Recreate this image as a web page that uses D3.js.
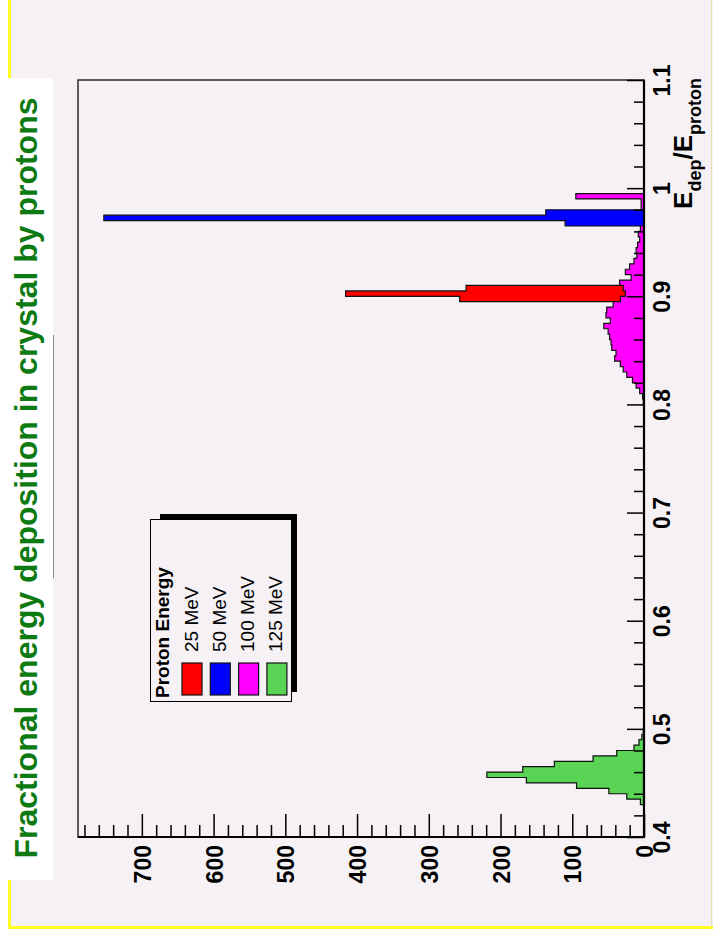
<!DOCTYPE html>
<html><head><meta charset="utf-8">
<script src="https://cdn.jsdelivr.net/npm/d3@7"></script>
<style>
body{margin:0;background:#ffffff;}
svg{display:block;}
text{font-family:"Liberation Sans",Arial,Helvetica,sans-serif;}
</style>
</head><body>
<svg id="c" width="713" height="943"></svg>
<script>
// ---------------- data ----------------
const titleText = "Fractional energy deposition in crystal by protons";
const legendHeader = "Proton Energy";
const seriesNames = ["25 MeV", "50 MeV", "100 MeV", "125 MeV"];
const seriesColors = ["#ff0000", "#0000ff", "#ff00ff", "#59d454"];
const binWidth = 0.005;
// counts per bin, bins start at the given lower edge
const start25 = 0.895;
const counts25 = [257, 416, 248];
const start50 = 0.965;
const counts50 = [110, 753, 137];
const start100 = 0.800;
const counts100 = [1, 2, 6, 11, 16, 24, 29, 33, 41, 39, 45, 46, 48, 50, 56, 47, 53, 52, 43, 33,
                   26, 29, 34, 18, 26, 20, 14, 10, 11, 9, 6, 8, 5, 5, 5, 5, 4, 4, 95];
const start125 = 0.430;
const counts125 = [5, 24, 49, 94, 164, 219, 169, 125, 71, 38, 14, 7, 3, 1];

const eTickValues = [0.4, 0.5, 0.6, 0.7, 0.8, 0.9, 1.0, 1.1];
const eTickLabels = ["0.4", "0.5", "0.6", "0.7", "0.8", "0.9", "1", "1.1"];
const countTickValues = [0, 100, 200, 300, 400, 500, 600, 700];
const countTickLabels = ["0", "100", "200", "300", "400", "500", "600", "700"];
const eDomain = [0.4, 1.1];
const countDomain = [0, 789];

// ---------------- layout ----------------
const BG = "#f5f1f5";
const frame = {left: 78, right: 644, top: 80, bottom: 837};
const svg = d3.select("#c");

// canvas background & border
svg.append("rect").attr("x", 9).attr("y", 0).attr("width", 704).attr("height", 928).attr("fill", BG);
svg.append("line").attr("x1", 9.5).attr("x2", 9.5).attr("y1", 0).attr("y2", 929)
  .attr("stroke", "#ffff22").attr("stroke-width", 3);
svg.append("line").attr("x1", 8).attr("x2", 713).attr("y1", 927.5).attr("y2", 927.5)
  .attr("stroke", "#ffff22").attr("stroke-width", 3);
svg.append("line").attr("x1", 711.5).attr("x2", 711.5).attr("y1", 0).attr("y2", 927)
  .attr("stroke", "#e6dfb0").attr("stroke-width", 1);

// title box
svg.append("rect").attr("x", 8).attr("y", 78).attr("width", 45).attr("height", 802).attr("fill", "#ffffff");
svg.append("line").attr("x1", 53.5).attr("x2", 53.5).attr("y1", 335).attr("y2", 578)
  .attr("stroke", "#8a8a8a").attr("stroke-width", 1);
svg.append("text").attr("transform", "translate(37,478) rotate(-90)")
  .attr("text-anchor", "middle").attr("font-size", 32).attr("font-weight", "bold")
  .attr("fill", "#0e7a12").text(titleText);

// scales (rotated chart: E along vertical, counts along horizontal)
const yE = d3.scaleLinear().domain(eDomain).range([frame.bottom, frame.top]);
const xC = d3.scaleLinear().domain(countDomain).range([frame.right, frame.left]);

// frame
svg.append("rect").attr("x", frame.left).attr("y", frame.top)
  .attr("width", frame.right - frame.left).attr("height", frame.bottom - frame.top)
  .attr("fill", BG).attr("stroke", "#2a2a2a").attr("stroke-width", 1.5);

// histograms
function histPath(start, counts) {
  const pts = [[0, start]];
  counts.forEach((c, i) => {
    const lo = start + i * binWidth, hi = lo + binWidth;
    pts.push([c, lo]); pts.push([c, hi]);
  });
  pts.push([0, start + counts.length * binWidth]);
  return d3.line().x(d => xC(d[0])).y(d => yE(d[1]))(pts) + "Z";
}
const drawOrder = [
  {start: start125, counts: counts125, color: seriesColors[3]},
  {start: start25, counts: counts25, color: seriesColors[0]},
  {start: start100, counts: counts100, color: seriesColors[2]},
  {start: start50, counts: counts50, color: seriesColors[1]}
];
svg.append("g").selectAll("path").data(drawOrder).join("path")
  .attr("d", d => histPath(d.start, d.counts))
  .attr("fill", d => d.color).attr("stroke", "#111").attr("stroke-width", 1.2)
  .attr("stroke-linejoin", "miter");

// E axis (right side, ticks pointing into the frame)
const minorE = d3.range(0, 36).map(i => +(0.4 + i * 0.02).toFixed(3))
  .filter(v => v <= 1.1 && Math.abs(v * 10 - Math.round(v * 10)) > 1e-6);
const gEminor = svg.append("g").attr("transform", `translate(${frame.right},0)`)
  .call(d3.axisLeft(yE).tickValues(minorE).tickSize(10).tickFormat(""));
const gE = svg.append("g").attr("transform", `translate(${frame.right},0)`)
  .call(d3.axisLeft(yE).tickValues(eTickValues).tickSize(17).tickFormat((d, i) => eTickLabels[i]));
[gEminor, gE].forEach(g => {
  g.select(".domain").remove();
  g.selectAll(".tick line").attr("stroke", "#000").attr("stroke-width", 1.5);
});
gE.attr("font-size", 23).attr("font-weight", "bold").attr("font-family", null);
gE.selectAll(".tick text").attr("x", null).attr("dy", null).attr("fill", "#000")
  .attr("text-anchor", "middle").attr("transform", "translate(26,0) rotate(-90)");

// count axis (bottom, ticks pointing up)
const minorC = d3.range(0, 790, 20).filter(v => v % 100 !== 0);
const gCminor = svg.append("g").attr("transform", `translate(0,${frame.bottom})`)
  .call(d3.axisTop(xC).tickValues(minorC).tickSize(12).tickFormat(""));
const gC = svg.append("g").attr("transform", `translate(0,${frame.bottom})`)
  .call(d3.axisTop(xC).tickValues(countTickValues).tickSize(23).tickFormat((d, i) => countTickLabels[i]));
[gCminor, gC].forEach(g => {
  g.select(".domain").remove();
  g.selectAll(".tick line").attr("stroke", "#000").attr("stroke-width", 1.5);
});
gC.attr("font-size", 23).attr("font-weight", "bold").attr("font-family", null);
gC.selectAll(".tick text").attr("y", null).attr("dy", null).attr("fill", "#000")
  .attr("text-anchor", "end").attr("transform", "translate(8.5,8) rotate(-90)");

// axis lines
svg.append("line").attr("x1", frame.right).attr("x2", frame.right).attr("y1", frame.top).attr("y2", frame.bottom + 1)
  .attr("stroke", "#000").attr("stroke-width", 2.2);
svg.append("line").attr("x1", frame.left).attr("x2", frame.right + 1).attr("y1", frame.bottom).attr("y2", frame.bottom)
  .attr("stroke", "#000").attr("stroke-width", 2.2);

// axis title E_dep/E_proton
const at = svg.append("text").attr("transform", `translate(692,${frame.top - 2}) rotate(-90)`)
  .attr("text-anchor", "end").attr("font-weight", "bold").attr("font-size", 26).attr("fill", "#000");
at.append("tspan").text("E");
at.append("tspan").attr("dy", 9).attr("font-size", 18).text("dep");
at.append("tspan").attr("dy", -9).text("/E");
at.append("tspan").attr("dy", 9).attr("font-size", 18).text("proton");

// legend
const lg = svg.append("g");
lg.append("rect").attr("x", 160).attr("y", 514).attr("width", 137).attr("height", 178).attr("fill", "#000");
lg.append("rect").attr("x", 150.5).attr("y", 519.5).attr("width", 141).attr("height", 182)
  .attr("fill", BG).attr("stroke", "#000").attr("stroke-width", 1);
lg.append("text").attr("transform", "translate(169,698) rotate(-90)")
  .attr("font-size", 19).attr("font-weight", "bold").attr("fill", "#000").text(legendHeader);
seriesNames.forEach((name, i) => {
  const cx = 192 + i * 28.3;
  lg.append("rect").attr("x", cx - 10).attr("y", 663).attr("width", 20).attr("height", 32)
    .attr("fill", seriesColors[i]).attr("stroke", "#111").attr("stroke-width", 1.2);
  lg.append("text").attr("transform", `translate(${cx + 5.5},652) rotate(-90)`)
    .attr("font-size", 19).attr("fill", "#000").text(name);
});
</script>
</body></html>
